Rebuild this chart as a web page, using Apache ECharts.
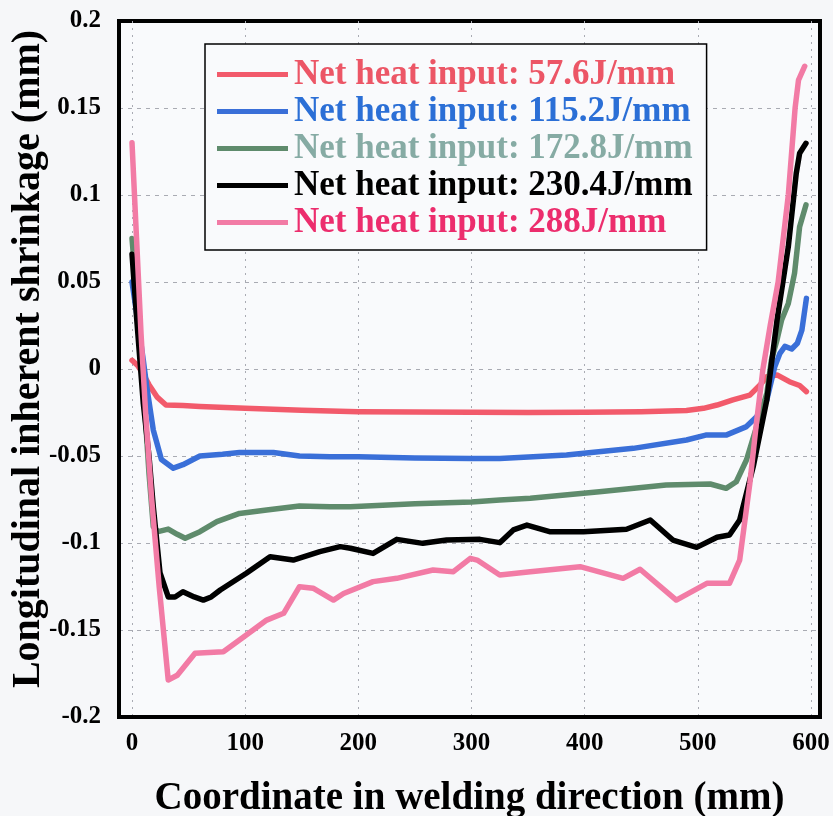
<!DOCTYPE html>
<html>
<head>
<meta charset="utf-8">
<script src="https://cdn.jsdelivr.net/npm/echarts@6/dist/echarts.min.js"></script>
<style>
html,body{margin:0;padding:0;background:#f6f7f9;}
#chart{width:833px;height:816px;}
</style>
</head>
<body>
<div id="chart"></div>
<script>
// ---- data (x: coordinate in welding direction, mm ; y: longitudinal inherent shrinkage, mm) ----
const xTicks = [0, 100, 200, 300, 400, 500, 600];
const yTicks = [-0.2, -0.15, -0.1, -0.05, 0, 0.05, 0.1, 0.15, 0.2];

const seriesNames = [
  'Net heat input: 57.6J/mm',
  'Net heat input: 115.2J/mm',
  'Net heat input: 172.8J/mm',
  'Net heat input: 230.4J/mm',
  'Net heat input: 288J/mm'
];

const heat57_6 = [[0,0.005],[5,0.002],[10,-0.003],[15,-0.009],[22,-0.016],[30,-0.0207],[45,-0.021],[60,-0.0215],[100,-0.0225],[150,-0.0237],[200,-0.0245],[250,-0.0247],[300,-0.0249],[350,-0.025],[400,-0.0248],[450,-0.0245],[490,-0.0238],[505,-0.0226],[517,-0.0207],[531,-0.0177],[546,-0.015],[555,-0.0092],[561,-0.0044],[570,-0.0034],[581,-0.0073],[590,-0.0095],[596,-0.013]];

const heat115_2 = [[0,0.05],[5,0.028],[10,0.005],[13,-0.01],[18.8,-0.035],[26,-0.052],[36.5,-0.057],[45,-0.055],[60,-0.050],[80,-0.049],[95,-0.048],[125,-0.048],[148,-0.050],[175,-0.0504],[200,-0.0505],[250,-0.0512],[300,-0.0514],[325,-0.0514],[384,-0.0494],[443,-0.0456],[490,-0.0408],[507,-0.038],[525,-0.038],[543,-0.0331],[552,-0.0274],[561,-0.0178],[568,0.0013],[572.6,0.009],[577,0.013],[583,0.0115],[588,0.0148],[592,0.0224],[596,0.0406]];

const heat172_8 = [[0,0.075],[5,0.035],[10,-0.01],[15,-0.06],[18.8,-0.0906],[23,-0.0935],[32,-0.092],[40,-0.095],[47,-0.0973],[60,-0.0935],[75,-0.0877],[95,-0.083],[119,-0.081],[148,-0.0787],[175,-0.0791],[193,-0.0791],[250,-0.0775],[300,-0.0765],[325,-0.0753],[352,-0.0743],[413,-0.0705],[472,-0.0667],[511,-0.0661],[525,-0.0686],[534,-0.0648],[543,-0.0523],[552,-0.0331],[561,-0.014],[565,0.005],[570,0.0167],[574,0.028],[580,0.0377],[585.5,0.055],[590,0.0818],[595.6,0.0943]];

const heat230_4 = [[0,0.066],[4,0.03],[10,-0.02],[15,-0.05],[18.8,-0.079],[24.7,-0.117],[32,-0.131],[38,-0.131],[45,-0.128],[55,-0.131],[63,-0.1328],[70,-0.131],[78,-0.127],[101,-0.1174],[122,-0.1079],[142.5,-0.1098],[166,-0.105],[184,-0.1021],[193,-0.103],[213,-0.106],[234,-0.0979],[257,-0.1002],[278,-0.0983],[307.5,-0.0979],[325,-0.0998],[337,-0.0925],[349,-0.0897],[369,-0.0935],[399,-0.0935],[437,-0.0921],[458,-0.0868],[478,-0.0983],[499,-0.1025],[517,-0.0967],[528,-0.0954],[537,-0.0868],[549,-0.0561],[561,-0.0178],[570,0.028],[580,0.0703],[587,0.1124],[590,0.124],[595.6,0.1297]];

const heat288 = [[0,0.13],[4,0.075],[8,0.02],[12,-0.025],[17.4,-0.075],[24,-0.125],[32,-0.1787],[40,-0.176],[55.7,-0.1634],[68,-0.163],[80.7,-0.1625],[101,-0.1529],[119,-0.1443],[134,-0.1404],[148,-0.1251],[160,-0.126],[178,-0.1328],[187,-0.129],[213,-0.1222],[234,-0.1203],[266,-0.1155],[284,-0.1165],[299,-0.1088],[305,-0.1098],[325,-0.1184],[352,-0.1165],[396,-0.1136],[434,-0.1203],[449,-0.1151],[481,-0.1328],[508,-0.1232],[528,-0.1232],[537,-0.1098],[546,-0.0657],[552,-0.03],[557.6,0],[564,0.025],[571,0.05],[580,0.1],[586,0.15],[589,0.166],[594.5,0.174]];

const seriesData = [heat57_6, heat115_2, heat172_8, heat230_4, heat288];
const lineColors = ['#f25a6b', '#3a6fd8', '#5f8b6c', '#000000', '#f27ba5'];
const legendTextColors = ['#ec5666', '#2b6fd6', '#86aba4', '#000000', '#ec2d6d'];

// ---- chart ----
const FONT = '"Liberation Serif", "Times New Roman", serif';
const chart = echarts.init(document.getElementById('chart'), null, {renderer: 'canvas'});

const fmtY = v => {
  const r = Math.round(v * 100) / 100;
  return yTicks.some(t => Math.abs(t - r) < 1e-9) ? String(r) : '';
};
const fmtX = v => (Math.abs(v - Math.round(v)) < 1e-9 && xTicks.includes(Math.round(v))) ? String(Math.round(v)) : '';

const option = {
  backgroundColor: '#f6f7f9',
  animation: false,
  grid: {
    left: 119, right: 13, top: 21, bottom: 99,
    containLabel: false,
    outerBoundsMode: 'none',
    show: true, borderColor: '#000', borderWidth: 4, backgroundColor: '#f9fafc'
  },
  legend: {
    orient: 'vertical',
    left: 205, top: 44,
    padding: [13, 14, 10, 12],
    itemGap: 2,
    itemWidth: 71,
    itemHeight: 5,
    icon: 'rect',
    borderColor: '#000',
    borderWidth: 1.5,
    backgroundColor: '#f9fafc',
    textStyle: {fontFamily: FONT, fontWeight: 'bold', fontSize: 35, padding: [0, 0, 0, 1]},
    data: seriesNames.map((n, i) => ({name: n, textStyle: {color: legendTextColors[i]}}))
  },
  xAxis: {
    type: 'value',
    min: -11.5, max: 608,
    name: 'Coordinate in welding direction (mm)',
    nameLocation: 'middle',
    nameGap: 62,
    nameMoveOverlap: false,
    nameTextStyle: {fontFamily: FONT, fontWeight: 'bold', fontSize: 39, color: '#000'},
    axisLine: {show: true, onZero: false, lineStyle: {color: '#000', width: 4}},
    axisTick: {show: false},
    axisLabel: {formatter: fmtX, margin: 14, fontFamily: FONT, fontWeight: 'bold', fontSize: 25, color: '#000'},
    splitLine: {show: true, showMinLine: false, showMaxLine: false, lineStyle: {color: '#a9abb3', type: [2, 5], width: 1}}
  },
  yAxis: {
    type: 'value',
    min: -0.2, max: 0.2, interval: 0.05,
    name: 'Longitudinal inherent shrinkage (mm)',
    nameLocation: 'middle',
    nameGap: 70,
    nameMoveOverlap: false,
    nameRotate: 90,
    nameTextStyle: {fontFamily: FONT, fontWeight: 'bold', fontSize: 40, color: '#000', padding: [0, 0, 0, 20]},
    axisLine: {show: true, onZero: false, lineStyle: {color: '#000', width: 4}},
    axisTick: {show: false},
    axisLabel: {formatter: fmtY, margin: 18, fontFamily: FONT, fontWeight: 'bold', fontSize: 25, color: '#000'},
    splitLine: {show: true, showMinLine: false, showMaxLine: false, lineStyle: {color: '#a9abb3', type: [4, 5], width: 1}}
  },
  series: seriesNames.map((n, i) => ({
    name: n,
    type: 'line',
    data: seriesData[i],
    showSymbol: false,
    smooth: false,
    color: lineColors[i],
    lineStyle: {width: 5.5, color: lineColors[i], cap: 'round', join: 'round'},
    z: 2 + (i === 4 ? 1 : 0)
  }))
};
chart.setOption(option);
</script>
</body>
</html>
